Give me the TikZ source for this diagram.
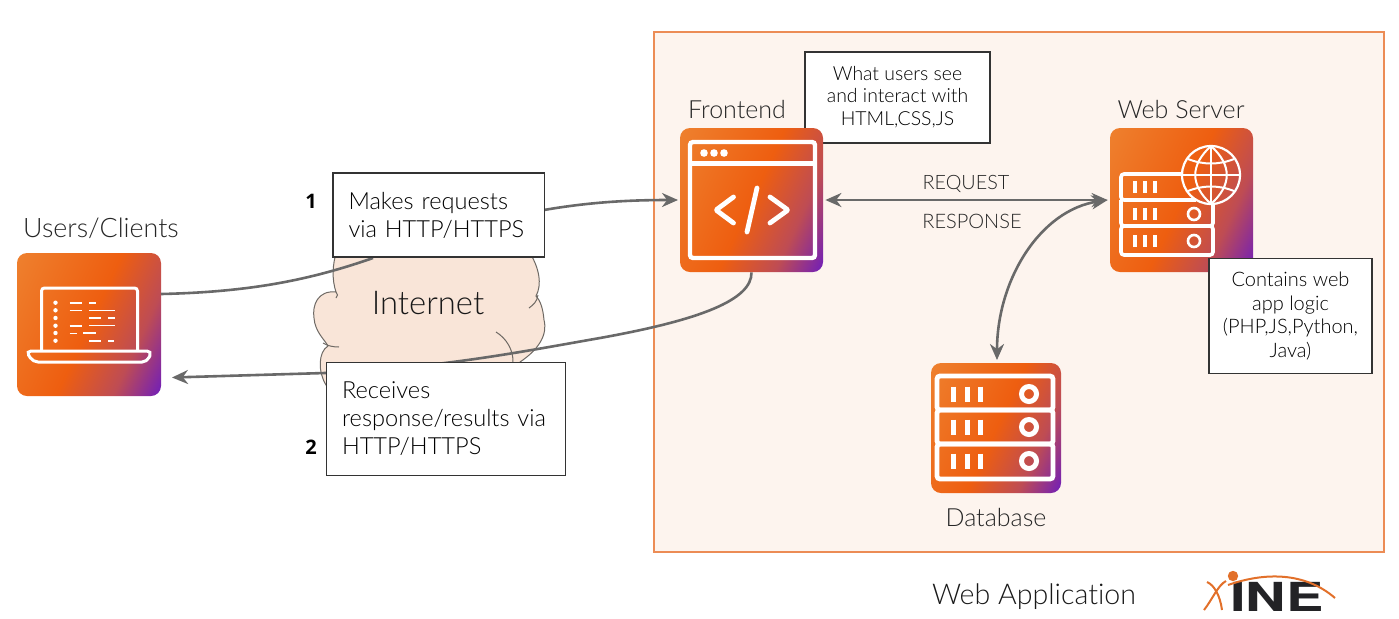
\documentclass[tikz,border=0pt]{standalone}
\usepackage{fontspec}
\usepackage{graphicx}
\setmainfont{Lato Light}[Ligatures=NoCommon]
\newfontfamily\numfont{Open Sans}
\newfontfamily\logofont{TeX Gyre Heros}
\usetikzlibrary{arrows.meta}
\definecolor{linkgray}{RGB}{105,105,105}
\definecolor{panelfill}{RGB}{253,244,238}
\definecolor{paneledge}{RGB}{236,140,85}
\definecolor{cloudfill}{RGB}{249,229,216}
\definecolor{cloudedge}{RGB}{110,105,100}
\definecolor{logoorange}{RGB}{226,112,42}
\definecolor{logoblack}{RGB}{35,35,38}
\definecolor{fadeA}{RGB}{238,128,46}
\definecolor{fadeB}{RGB}{238,94,16}
\definecolor{fadeC}{RGB}{190,76,84}
\definecolor{fadeD}{RGB}{112,30,186}
\pgfdeclarehorizontalshading{iconfade}{100bp}{color(0bp)=(fadeA); color(17bp)=(fadeA);
  color(50bp)=(fadeB); color(68bp)=(fadeC); color(83bp)=(fadeD); color(100bp)=(fadeD)}
\tikzset{
  icon/.style={rounded corners=5pt, inner sep=0pt, shading=iconfade, shading angle=-25},
  glyph/.style={draw=white, line width=#1, rounded corners=1.5pt},
  glyph/.default=2.2pt,
  glyphthin/.style={draw=white, line width=0.8pt},
  link/.style={draw=linkgray, line width=1.3pt},
  notebox/.style={draw=black!80, fill=white, line width=0.6pt, inner xsep=0pt, inner ysep=0pt, align=left},
  label/.style={font=\fontsize{12.5}{15}\selectfont, text=black!85},
}
\begin{document}
\begin{tikzpicture}[>={Stealth[length=8pt,width=7pt]}, x=0.5pt, y=-0.5pt]
\useasboundingbox (0,0) rectangle (1399,618);

% panel
\draw[paneledge, fill=panelfill, line width=0.55pt] (654,32) rectangle (1384,552);

% cloud
\draw[cloudedge, fill=cloudfill, line width=0.5pt]
  (337,250) .. controls (332,265) and (332,280) .. (336,292)
  .. controls (318,290) and (312,305) .. (314,318)
  .. controls (315,332) and (325,340) .. (328,346)
  .. controls (318,352) and (318,372) .. (326,385)
  -- (520,385) -- (520,362)
  .. controls (538,350) and (548,335) .. (544,320)
  .. controls (543,308) and (540,300) .. (536,296)
  .. controls (542,285) and (540,268) .. (528,250) -- cycle;
\draw[cloudedge, line width=0.5pt] (336,292) .. controls (338,294) and (338,296) .. (336,298);
\draw[cloudedge, line width=0.5pt] (323,343) .. controls (328,346) and (333,347) .. (339,347);
\draw[cloudedge, line width=0.5pt] (538,295) .. controls (537,302) and (533,305) .. (529,308);
\draw[cloudedge, line width=0.5pt] (496,332) .. controls (506,338) and (514,350) .. (513,364);
\node[font=\fontsize{16.4}{20}\selectfont, text=black!90] (internet) at (428,303) {Internet};

% icons
\shade[icon] (17,253) rectangle (161,396);
\node[minimum width=72pt, minimum height=71.5pt, inner sep=0pt] (users) at (89,324.5) {};
\node[minimum width=71.5pt, minimum height=72pt, inner sep=0pt] (frontend) at (751.5,200) {};
\shade[icon] (1110,128) rectangle (1253,272);
\node[minimum width=71.5pt, minimum height=72pt, inner sep=0pt] (server) at (1181.5,200) {};
\shade[icon] (931,363) rectangle (1061,493);
\node[minimum width=65pt, minimum height=65pt, inner sep=0pt] (database) at (996,428) {};

\path
  (161,294) coordinate (usersout)
  (544,210) coordinate (makesout)
  (678,200) coordinate (frontendin)
  (172,377.5) coordinate (usersin)
  (997,360) coordinate (databasetop)
  (373,258) coordinate (makesin)
  ;

% connectors
\draw[link] (usersout) .. controls (250,292) and (310,280) .. (makesin);
\draw[link,->] (makesout) .. controls (590,202) and (630,200) .. (frontendin);
\draw[link,->] (frontend.south) .. controls (752,300) and (700,320) .. (600,338)
  .. controls (520,352) and (440,368) .. (325,373) -- (usersin);
\draw[link,<->] ([xshift=1pt]frontend.east) -- ([xshift=-1pt]server.west);
\draw[link,<->] ([xshift=-1pt]server.west) .. controls (1040,210) and (997,280) .. (databasetop);

% notes
\node[notebox, minimum width=105.5pt, minimum height=42pt, text width=90pt, inner xsep=7.8pt, font=\fontsize{11.8}{14}\selectfont] (makes) at (438.5,215) {Makes requests\\via HTTP/HTTPS};
\node[notebox, minimum width=119.5pt, minimum height=56.5pt, text width=104pt, inner xsep=7.2pt, font=\fontsize{11.8}{14}\selectfont] (receives) at (446,419) {Receives\\response/results via\\HTTP/HTTPS};
\node[notebox, minimum width=92.5pt, minimum height=45.5pt, align=center, font=\fontsize{9.7}{11.8}\selectfont] (sees) at (897.5,97.5) {\raisebox{-1pt}{What users see}\\and interact with\\HTML,CSS,JS};
\node[notebox, minimum width=81.5pt, minimum height=57.5pt, align=center, font=\fontsize{10}{11.7}\selectfont] (logic) at (1290.5,316) {Contains web\\app logic\\(PHP,JS,Python,\\Java)};

% frontend sits over its note
\shade[icon] (680,128) rectangle (823,272);
\draw[glyph] (690,142) rectangle (815,258);
\draw[glyph, rounded corners=0pt] (690,163.5) -- (815,163.5);
\foreach \dotx in {704,714,724} \fill[white] (\dotx,153) circle (1.9pt);
\draw[glyph=2.4pt, rounded corners=0.5pt, line cap=round, line join=round] (733.5,197) -- (716,210) -- (733.5,223);
\draw[glyph=2.4pt, line cap=round] (757,188) -- (747,232);
\draw[glyph=2.4pt, rounded corners=0.5pt, line cap=round, line join=round] (770,197) -- (788,210) -- (770,223);

% laptop
\draw[glyph=1.5pt] (41.5,350) -- (41.5,288) -- (137.5,288) -- (137.5,350);
\draw[glyph=1.5pt, rounded corners=2.5pt] (26,351) -- (152,351) -- (147,362) -- (33,362) -- cycle;
\foreach \liney in {302.7,310.3,318,325.7,333,340.7} \fill[white] (55.5,\liney) circle (1.1pt);
\foreach \xa/\xb/\liney in {69.7/82.3/302.7, 88.8/95.7/302.7, 88.8/114.8/310.3, 88.8/101.4/318, 108/114.8/318, 69.7/82.3/325.7, 83/95.7/333, 88.8/101.4/340.7, 108/114/340.7}
  \draw[glyphthin] (\xa,\liney) -- (\xb,\liney);
\draw[white, line width=0.4pt] (69.7,310.3) -- (82.3,310.3) (88.8,325.7) -- (114.8,325.7) (69.7,333) -- (76.5,333);

% web server
\draw[glyph=1.8pt] (1183,174) -- (1121,174) -- (1121,200) -- (1196,200);
\draw[glyph=1.8pt] (1121,200) -- (1121,226) -- (1213,226) -- (1213,203);
\draw[glyph=1.8pt] (1121,226) rectangle (1213,255);
\foreach \rowy in {187,214,241} \foreach \tickx in {1135,1145,1155}
  \draw[draw=white, line width=1.9pt] (\tickx,\rowy-6) -- (\tickx,\rowy+6);
\foreach \rowy in {214,241} \draw[draw=white, line width=1.3pt] (1194,\rowy) circle (3pt);
\draw[white, line width=1.1pt] (1211,175) circle (14.5pt);
\draw[white, line width=1pt] (1211,146) -- (1211,204);
\draw[white, line width=1pt] (1182,175) -- (1240,175);
\draw[white, line width=1pt] (1211,146) .. controls (1190,165) and (1190,185) .. (1211,204);
\draw[white, line width=1pt] (1211,146) .. controls (1232,165) and (1232,185) .. (1211,204);
\draw[white, line width=1pt] (1188,159) .. controls (1203,165) and (1219,165) .. (1234,159);
\draw[white, line width=1pt] (1188,191) .. controls (1203,185) and (1219,185) .. (1234,191);

% database
\draw[glyph=2.4pt] (937,376) rectangle (1053,410);
\draw[glyph=2.4pt] (937,410) rectangle (1053,444);
\draw[glyph=2.4pt] (937,444) rectangle (1053,479);
\foreach \rowy in {394,427,461} {
  \foreach \tickx in {953,967,980}
    \draw[draw=white, line width=2.5pt] (\tickx,\rowy-7.5) -- (\tickx,\rowy+7.5);
  \draw[draw=white, line width=2.5pt] (1029,\rowy) circle (3.75pt);
}

% labels
\node[label, font=\fontsize{13.4}{15}\selectfont] (userslabel) at (101,228) {Users/Clients};
\node[label] (frontendlabel) at (737,109) {Frontend};
\node[label] (serverlabel) at (1181,109) {Web Server};
\node[label] (databaselabel) at (996,517) {Database};
\node[font=\fontsize{9.9}{11}\selectfont, text=black!85] (request) at (966,184) {REQUEST};
\node[font=\fontsize{10}{11}\selectfont, text=black!85] (response) at (972,221) {RESPONSE};
\node[font=\numfont\bfseries\fontsize{10}{12}\selectfont] (one) at (311,201) {1};
\node[font=\numfont\bfseries\fontsize{10}{12}\selectfont] (two) at (311,447) {2};
\node[font=\fontsize{14.3}{18}\selectfont, text=black!90] (webapp) at (1034,597) {Web Application};

% logo
\node[text=logoblack, inner sep=0pt, font=\logofont\bfseries\fontsize{20}{20}\selectfont] (ine) at (1277,597) {\scalebox{1.4}[1]{INE}};
\fill[logoorange] (1233,576) circle (2.6pt);
\draw[logoorange, line width=1pt] (1228,585) .. controls (1265,572) and (1305,572) .. (1335,598);
\draw[logoorange, line width=1pt] (1204,610) .. controls (1212,600) and (1218,585) .. (1226,581);
\draw[logoorange, line width=1pt] (1207,582) .. controls (1214,585) and (1220,595) .. (1222,610);
\end{tikzpicture}
\end{document}
